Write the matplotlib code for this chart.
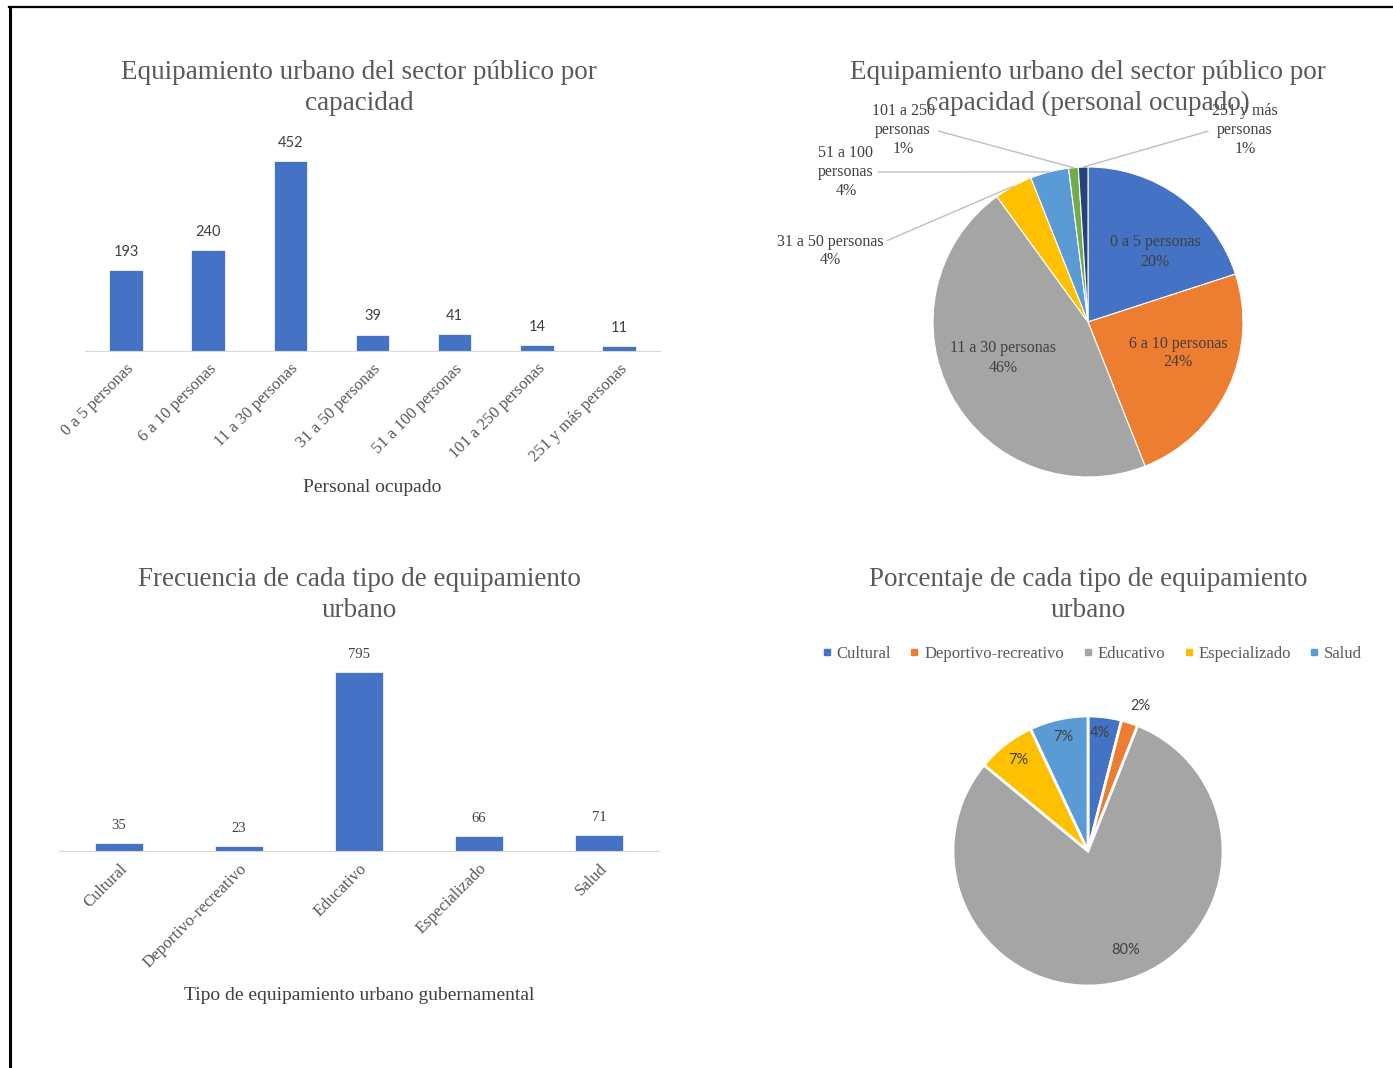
import matplotlib
matplotlib.use("Agg")
import matplotlib.pyplot as plt
from matplotlib.lines import Line2D
import numpy as np

# --- data ---
capacidad_labels = ["0 a 5 personas", "6 a 10 personas", "11 a 30 personas",
                    "31 a 50 personas", "51 a 100 personas", "101 a 250 personas",
                    "251 y más personas"]
capacidad_counts = [193, 240, 452, 39, 41, 14, 11]
capacidad_pct = [20, 24, 46, 4, 4, 1, 1]

tipo_labels = ["Cultural", "Deportivo-recreativo", "Educativo", "Especializado", "Salud"]
tipo_counts = [35, 23, 795, 66, 71]
tipo_pct = [4, 2, 80, 7, 7]

# --- styling ---
W, H = 1393, 1068
SERIF = ["Liberation Serif", "DejaVu Serif"]
SANS = ["Lato", "DejaVu Sans"]
BAR = "#4472C4"
TXT = "#595959"
DARK = "#404040"
pie1_colors = ["#4472C4", "#ED7D31", "#A5A5A5", "#FFC000", "#5B9BD5", "#70AD47", "#264478"]
pie2_colors = ["#4472C4", "#ED7D31", "#A5A5A5", "#FFC000", "#5B9BD5"]
TITLE_KW = dict(ha="center", va="center", fontsize=19.5, color=TXT, family=SERIF,
                linespacing=1.35)

fig = plt.figure(figsize=(W / 100, H / 100), dpi=100)


def box(x0, y0, x1, y1):
    # pixel box (top-left origin) -> figure fraction rect
    return [x0 / W, 1 - y1 / H, (x1 - x0) / W, (y1 - y0) / H]


def ftext(x, y, s, **kw):
    fig.text(x / W, 1 - y / H, s, **kw)


def bar_panel(rect, labels, counts, ymax, width, xlabel, xlabel_y, value_font):
    ax = fig.add_axes(box(*rect))
    x = np.arange(len(counts))
    ax.bar(x, counts, width=width, color=BAR, edgecolor="white", linewidth=0.5)
    for xi, c in zip(x, counts):
        ax.annotate(str(c), (xi, c), xytext=(0, 8), textcoords="offset points",
                    ha="center", va="bottom", fontsize=10.5, color=DARK,
                    family=value_font)
    ax.set_xlim(-0.5, len(counts) - 0.5)
    ax.set_ylim(0, ymax)
    ax.set_yticks([])
    ax.set_xticks(x)
    ax.set_xticklabels(labels, rotation=45, ha="right", rotation_mode="anchor",
                       fontsize=12, color=TXT, family=SERIF)
    ax.tick_params(axis="x", length=0, pad=7)
    for s in ["top", "right", "left"]:
        ax.spines[s].set_visible(False)
    ax.spines["bottom"].set_color("#D9D9D9")
    ax.patch.set_alpha(0)
    ftext((rect[0] + rect[2]) / 2, xlabel_y, xlabel, ha="center", va="center",
          fontsize=14, color=DARK, family=SERIF)
    return ax


# top-left bar chart
bar_panel((85, 130, 660, 351), capacidad_labels, capacidad_counts, 525.7, 0.41,
          "Personal ocupado", 488, SANS)
ftext(359, 88, "Equipamiento urbano del sector público por\ncapacidad", **TITLE_KW)

# bottom-left bar chart
bar_panel((59, 640, 659, 851), tipo_labels, tipo_counts, 937, 0.4,
          "Tipo de equipamiento urbano gubernamental", 996, SERIF)
ftext(359, 595, "Frecuencia de cada tipo de equipamiento\nurbano", **TITLE_KW)

# top-right pie
cx, cy, r = 1088, 322, 155
ax1 = fig.add_axes(box(cx - 1.8 * r, cy - 1.8 * r, cx + 1.8 * r, cy + 1.8 * r))
wedges, _ = ax1.pie(capacidad_pct, colors=pie1_colors, startangle=90, counterclock=False,
                    wedgeprops=dict(edgecolor="white", linewidth=0.8))
ax1.set_xlim(-1.8, 1.8)
ax1.set_ylim(-1.8, 1.8)
ax1.set_aspect("equal")
ax1.axis("off")
pct1 = [f"{p}%" for p in capacidad_pct]
PIE_KW = dict(ha="center", va="center", fontsize=11.5, color=DARK, family=SERIF,
              linespacing=1.25)

# inside labels (pixel positions)
inside1 = {0: (1155, 252), 1: (1178, 353), 2: (1003, 358)}
for i, (px, py) in inside1.items():
    ax1.text((px - cx) / r, (cy - py) / r, f"{capacidad_labels[i]}\n{pct1[i]}", **PIE_KW)

# outside labels with leader lines: text centre, relpos of line start
outside1 = {
    3: ((830, 251), "31 a 50 personas\n" + pct1[3], (1.0, 0.75)),
    4: ((846, 172), "51 a 100\npersonas\n" + pct1[4], (1.0, 0.5)),
    5: ((903, 130), "101 a 250\npersonas\n" + pct1[5], (1.0, 0.5)),
    6: ((1245, 130), "251 y más\npersonas\n" + pct1[6], (0.0, 0.5)),
}
for i, ((px, py), s, rel) in outside1.items():
    w = wedges[i]
    ang = np.deg2rad((w.theta1 + w.theta2) / 2)
    ax1.annotate(s, xy=(np.cos(ang), np.sin(ang)),
                 xytext=((px - cx) / r, (cy - py) / r), **PIE_KW,
                 arrowprops=dict(arrowstyle="-", color="#BFBFBF", lw=1,
                                 shrinkA=1, shrinkB=0, relpos=rel))
ftext(1088, 88, "Equipamiento urbano del sector público por\ncapacidad (personal ocupado)",
      **TITLE_KW)

# bottom-right pie
cx2, cy2, r2 = 1088, 851, 135
ax2 = fig.add_axes(box(cx2 - 1.5 * r2, cy2 - 1.5 * r2, cx2 + 1.5 * r2, cy2 + 1.5 * r2))
ax2.pie(tipo_pct, colors=pie2_colors, startangle=90, counterclock=False,
        wedgeprops=dict(edgecolor="white", linewidth=2))
ax2.set_xlim(-1.5, 1.5)
ax2.set_ylim(-1.5, 1.5)
ax2.set_aspect("equal")
ax2.axis("off")
label_pos2 = [(1100, 733), (1140, 706), (1126, 950), (1018, 760), (1063, 737)]
for p, (px, py) in zip(tipo_pct, label_pos2):
    ax2.text((px - cx2) / r2, (cy2 - py) / r2, f"{p}%", ha="center", va="center",
             fontsize=10.5, color=DARK, family=SANS)
ftext(1088, 595, "Porcentaje de cada tipo de equipamiento\nurbano", **TITLE_KW)

handles = [Line2D([], [], marker="s", linestyle="none", markersize=5, color=c)
           for c in pie2_colors]
fig.legend(handles, tipo_labels, loc="center", bbox_to_anchor=(1092 / W, 1 - 654 / H),
           ncol=5, frameon=False, handlelength=0.6, handletextpad=0.3, columnspacing=1.1,
           prop=dict(family=SERIF, size=12), labelcolor=TXT)

# frame lines along top and left edge
fig.add_artist(Line2D([9 / W, 1392 / W], [1 - 7 / H, 1 - 7 / H], color="black", lw=1.6))
fig.add_artist(Line2D([10 / W, 10 / W], [0, 1 - 7 / H], color="black", lw=2.2))

fig.savefig("out.png", dpi=100, facecolor="white")
